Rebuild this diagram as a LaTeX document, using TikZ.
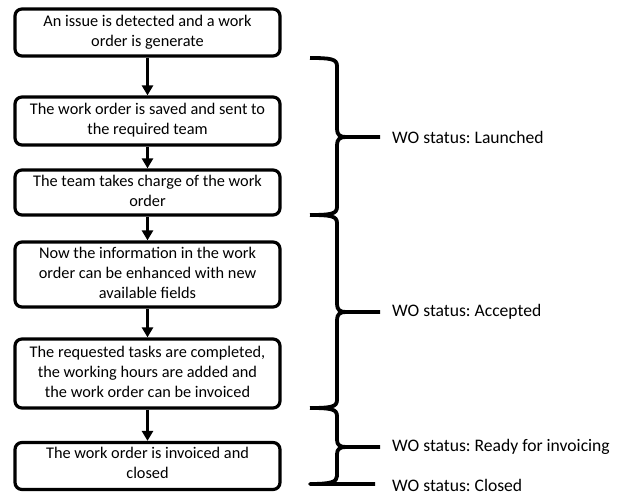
\documentclass[tikz,border=0pt]{standalone}
\usepackage{fontspec}
\setmainfont{Carlito}
\usetikzlibrary{arrows.meta}
\frenchspacing
\newcommand{\bt}[2][0pt]{\raisebox{#1}[0pt][0pt]{\begin{tabular}{@{}c@{}}#2\end{tabular}}}
\tikzset{
  wobox/.style={draw, line width=3.2pt, rounded corners=7pt, minimum width=265pt, inner sep=0pt, align=center,
    font=\fontsize{16.3}{20}\selectfont},
  flow/.style={line width=3.2pt, -{Triangle[width=11pt,length=10pt]}},
  brc/.style={line width=3.8pt, line join=round},
  status/.style={anchor=west, inner sep=0pt, font=\fontsize{17.6}{20}\selectfont}
}
\begin{document}
\begin{tikzpicture}[x=1pt,y=-1pt]
\useasboundingbox (0,0) rectangle (624,494);
\node[wobox, minimum height=47pt] (b1) at (147.5,32.5) {\bt[-4pt]{An issue is detected and a work\\order is generate}};
\node[wobox, minimum height=48pt] (b2) at (147.5,121) {\bt[-4pt]{The work order is saved and sent to\\the required team}};
\node[wobox, minimum height=45pt] (b3) at (147.5,192.5) {\bt[-4pt]{The team takes charge of the work\\order}};
\node[wobox, minimum height=65pt] (b4) at (147.5,274.5) {\bt[-4pt]{Now the information in the work\\order can be enhanced with new\\available fields}};
\node[wobox, minimum height=69pt] (b5) at (147.5,373.5) {\bt[-4pt]{The requested tasks are completed,\\the working hours are added and\\the work order can be invoiced}};
\node[wobox, minimum height=47pt] (b6) at (147.5,466) {\bt[-3pt]{The work order is invoiced and\\closed}};
\draw[flow] (b1) -- (b2);
\draw[flow] (b2) -- (b3);
\draw[flow] (b3) -- (b4);
\draw[flow] (b4) -- (b5);
\draw[flow] (b5) -- (b6);
% braces
\draw[brc] (310,58) .. controls (331,58) and (337,59) .. (337,66) -- (337,129)
  .. controls (337,135) and (340,137) .. (346,137) -- (380,137);
\draw[brc] (346,137) .. controls (340,137) and (337,139) .. (337,145) -- (337,207)
  .. controls (337,214) and (331,215) .. (310,215);
\draw[brc] (310,215) .. controls (331,215) and (337,216) .. (337,223) -- (337,304)
  .. controls (337,310) and (340,312) .. (346,312) -- (380,312);
\draw[brc] (346,312) .. controls (340,312) and (337,314) .. (337,320) -- (337,400)
  .. controls (337,407) and (331,408) .. (310,408);
\draw[brc] (310,408) .. controls (331,408) and (337,409) .. (337,416) -- (337,440)
  .. controls (337,445) and (340,447) .. (346,447) -- (380,447);
\draw[brc] (346,447) .. controls (340,447) and (337,449) .. (337,454) -- (337,476)
  .. controls (337,482) and (331,484) .. (310,484) -- (375,484);
\node[status] (s1) at (392,137) {WO status: Launched};
\node[status] (s2) at (392,312) {WO status: Accepted};
\node[status] (s3) at (392,447) {WO status: Ready for invoicing};
\node[status] (s4) at (392,485) {WO status: Closed};
\end{tikzpicture}
\end{document}
